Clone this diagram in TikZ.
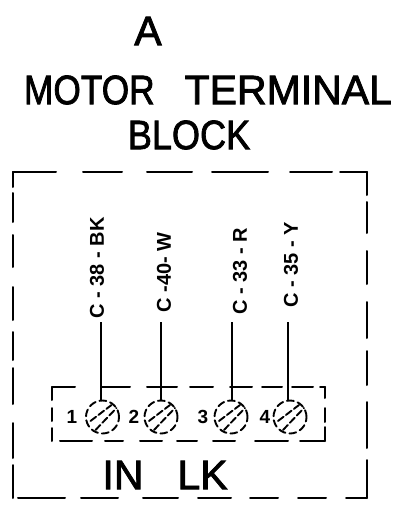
\documentclass[tikz,border=0pt]{standalone}
\usepackage{fontspec}
\setmainfont{Liberation Sans}
\newfontfamily\stencilfont[FakeBold=2]{Liberation Sans}
\begin{document}
\begin{tikzpicture}[x=1pt,y=-1pt,line cap=round,
	box/.style={draw,line width=2pt},
	lead/.style={draw,line width=2.4pt,line cap=butt},
	terminal/.style={circle,draw,line width=1.9pt,dash pattern=on 7pt off 4pt,minimum size=33pt,inner sep=0pt},
	hatch/.style={line width=1.9pt,dash pattern=on 7pt off 3pt},
	num/.style={font=\bfseries\fontsize{19}{19}\selectfont},
	wire/.style={rotate=90,anchor=east,inner sep=0pt,font=\bfseries\fontsize{20}{20}\selectfont},
	title/.style={font=\stencilfont\fontsize{41}{41}\selectfont}]
	\useasboundingbox (0,0) rectangle (414,508);
	\node[title] (ta) at (148,31) {A};
	\node[title] (tb) at (208,90) {\scalebox{.86}[1]{MOTOR}\hspace{30pt}TERMINAL};
	\node[title] (tc) at (189,135) {\scalebox{.88}[1]{BLOCK}};
	% outer box
	\coordinate (ona) at (13,172);
	\coordinate (onb) at (367,172);
	\coordinate (onc) at (367,498);
	\coordinate (ond) at (13,498);
	\draw[box,dash pattern=on 43pt off 27pt on 39pt off 25pt on 45pt off 20pt on 56pt off 22pt on 42pt off 8pt on 27pt] (ona) -- (onb);
	\draw[box,dash pattern=on 23pt off 7pt on 31pt off 18pt on 33pt off 18pt on 36pt off 13pt on 34pt off 17pt on 46pt off 12pt on 38pt] (onb) -- (onc);
	\draw[box,dash pattern=on 21pt off 20pt on 28pt off 20pt on 28pt off 19pt on 33pt off 20pt on 35pt off 25pt on 37pt off 16pt on 47pt off 9pt] (onc) -- (ond);
	\draw[box,dash pattern=on 15pt off 6pt on 29pt off 13pt on 32pt off 20pt on 33pt off 12pt on 28pt off 8pt on 36pt off 19pt on 35pt off 7pt on 33pt] (ona) -- (ond);
	% inner box
	\coordinate (ina) at (52,387);
	\coordinate (inb) at (325,387);
	\coordinate (inc) at (325,441);
	\coordinate (ind) at (52,441);
	\draw[box,dash pattern=on 23pt off 27pt on 28pt off 17pt on 30pt off 13pt on 23pt off 17pt on 22pt off 10pt on 20pt off 10pt on 21pt off 7pt on 5pt] (ina) -- (inb);
	\draw[box,dash pattern=on 11pt off 10pt on 14pt off 5pt on 14pt] (inb) -- (inc);
	\draw[box,dash pattern=on 25pt off 12pt on 33pt off 20pt on 22pt off 16pt on 20pt off 15pt on 22pt off 17pt on 18pt off 13pt on 32pt off 10pt] (inc) -- (ind);
	\draw[box,dash pattern=on 13pt off 8pt on 13pt off 7pt on 14pt] (ina) -- (ind);
	\node[title] (inlk) at (165,475) {IN\hspace{34pt}LK};
	% terminals
	\foreach \name/\xpos/\leadx/\numx/\wirename/\wirex/\wiretop in
		{1/102.5/101/72/C - 38 - BK/97/217, 2/161/161/134/C -40- W/164/232,
		 3/231/232/203/C - 33 - R/240/228, 4/290/288/265/C - 35 - Y/291/222}{
		\node[terminal] (t\name) at (\xpos,417) {};
		\node[num] (n\name) at (\numx,417) {\name};
		\node[wire] (w\name) at (\wirex,\wiretop) {\wirename};
		\coordinate (c\name) at (\leadx,322);
		\draw[lead] (c\name) -- (\leadx,400);
		\draw[hatch] (t\name.center)+(-12,4) -- +(9,-12);
		\draw[hatch] (t\name.center)+(-7,13) -- +(14,-9);
	}
\end{tikzpicture}
\end{document}
